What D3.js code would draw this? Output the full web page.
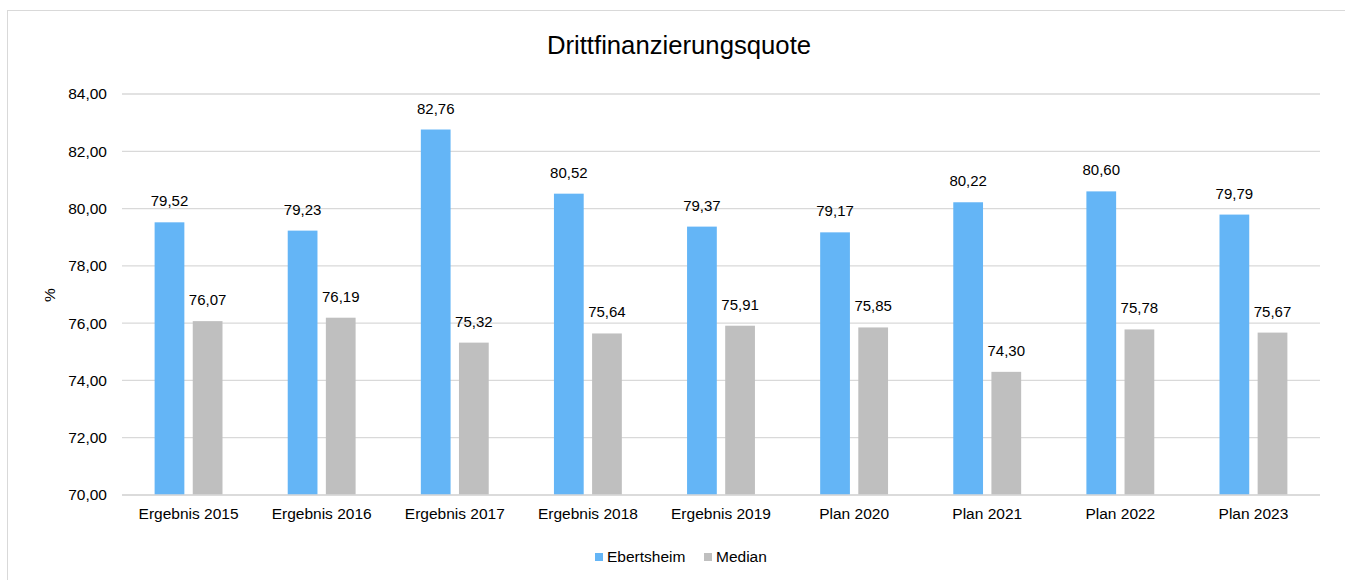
<!DOCTYPE html>
<html>
<head>
<meta charset="utf-8">
<script src="https://cdn.jsdelivr.net/npm/d3@7"></script>
<style>
  body { margin: 0; background: #fff; }
  svg { display: block; font-family: "Liberation Sans", Arial, sans-serif; }
</style>
</head>
<body>
<svg id="chart" width="1345" height="580"></svg>
<script>
const categories = ["Ergebnis 2015", "Ergebnis 2016", "Ergebnis 2017", "Ergebnis 2018", "Ergebnis 2019", "Plan 2020", "Plan 2021", "Plan 2022", "Plan 2023"];
const seriesNames = ["Ebertsheim", "Median"];
const ebertsheim = [79.52, 79.23, 82.76, 80.52, 79.37, 79.17, 80.22, 80.60, 79.79];
const median = [76.07, 76.19, 75.32, 75.64, 75.91, 75.85, 74.30, 75.78, 75.67];
const yTicks = [70, 72, 74, 76, 78, 80, 82, 84];
const colors = ["#64b5f6", "#bfbfbf"];

const svg = d3.select("#chart");
const width = 1345;
const margin = { top: 94, right: 25, bottom: 85, left: 122 };
const plotBottom = 495;

const fmt = v => d3.format(".2f")(v).replace(".", ",");

// frame
svg.append("rect")
  .attr("x", 7.5).attr("y", 10.5)
  .attr("width", 1400).attr("height", 600)
  .attr("fill", "none").attr("stroke", "#d9d9d9");

const x0 = d3.scaleBand()
  .domain(categories)
  .range([margin.left, width - margin.right])
  .paddingInner(0.49)
  .paddingOuter(0.245);

const x1 = d3.scaleBand()
  .domain(seriesNames)
  .range([0, x0.bandwidth()])
  .paddingInner(0.22);

const y = d3.scaleLinear().domain([70, 84]).range([plotBottom, margin.top]);

// gridlines
svg.append("g")
  .selectAll("line")
  .data(yTicks)
  .join("line")
  .attr("x1", margin.left).attr("x2", width - margin.right)
  .attr("y1", d => y(d)).attr("y2", d => y(d))
  .attr("stroke", "#d9d9d9").attr("stroke-width", 1.3);

// y axis labels
const yAxis = d3.axisLeft(y).tickValues(yTicks).tickFormat(fmt).tickSize(0).tickPadding(15);
svg.append("g")
  .attr("transform", `translate(${margin.left},0)`)
  .call(yAxis)
  .call(g => g.select(".domain").remove())
  .selectAll("text")
  .attr("font-size", 15.5).attr("fill", "#000")
  .style("font-family", "Liberation Sans, Arial, sans-serif");

svg.append("text")
  .attr("transform", "translate(55,295) rotate(-90)")
  .attr("text-anchor", "middle")
  .attr("font-size", 15.5)
  .text("%");

// x axis labels
const xAxis = d3.axisBottom(x0).tickSize(0).tickPadding(12);
svg.append("g")
  .attr("transform", `translate(0,${plotBottom})`)
  .call(xAxis)
  .call(g => g.select(".domain").remove())
  .selectAll("text")
  .attr("font-size", 15.5).attr("fill", "#000")
  .attr("dy", null).attr("y", 24)
  .style("font-family", "Liberation Sans, Arial, sans-serif");

// bars
const rows = categories.map((c, i) => ({ cat: c, values: [ebertsheim[i], median[i]] }));

const groups = svg.append("g")
  .selectAll("g")
  .data(rows)
  .join("g")
  .attr("transform", d => `translate(${x0(d.cat)},0)`);

groups.selectAll("rect")
  .data(d => d.values.map((v, j) => ({ key: seriesNames[j], v, j })))
  .join("rect")
  .attr("x", d => x1(d.key))
  .attr("width", x1.bandwidth())
  .attr("y", d => y(d.v))
  .attr("height", d => plotBottom - y(d.v))
  .attr("fill", d => colors[d.j]);

groups.selectAll("text.val")
  .data(d => d.values.map((v, j) => ({ key: seriesNames[j], v, j })))
  .join("text")
  .attr("class", "val")
  .attr("x", d => x1(d.key) + x1.bandwidth() / 2)
  .attr("y", d => y(d.v) - 16)
  .attr("text-anchor", "middle")
  .attr("font-size", 15)
  .text(d => fmt(d.v));

// gridline base over bars
svg.append("line")
  .attr("x1", margin.left).attr("x2", width - margin.right)
  .attr("y1", plotBottom).attr("y2", plotBottom)
  .attr("stroke", "#d9d9d9").attr("stroke-width", 1.3);

// title
svg.append("text")
  .attr("x", 679).attr("y", 54)
  .attr("text-anchor", "middle")
  .attr("font-size", 25.7)
  .text("Drittfinanzierungsquote");

// legend
const legend = svg.append("g").attr("transform", "translate(595,562)");
const legendX = [0, 109];
seriesNames.forEach((name, i) => {
  const g = legend.append("g").attr("transform", `translate(${legendX[i]},0)`);
  g.append("rect").attr("x", 0).attr("y", -9).attr("width", 8).attr("height", 8).attr("fill", colors[i]);
  g.append("text").attr("x", 12).attr("y", 0).attr("font-size", 15.5).text(name);
});
</script>
</body>
</html>
